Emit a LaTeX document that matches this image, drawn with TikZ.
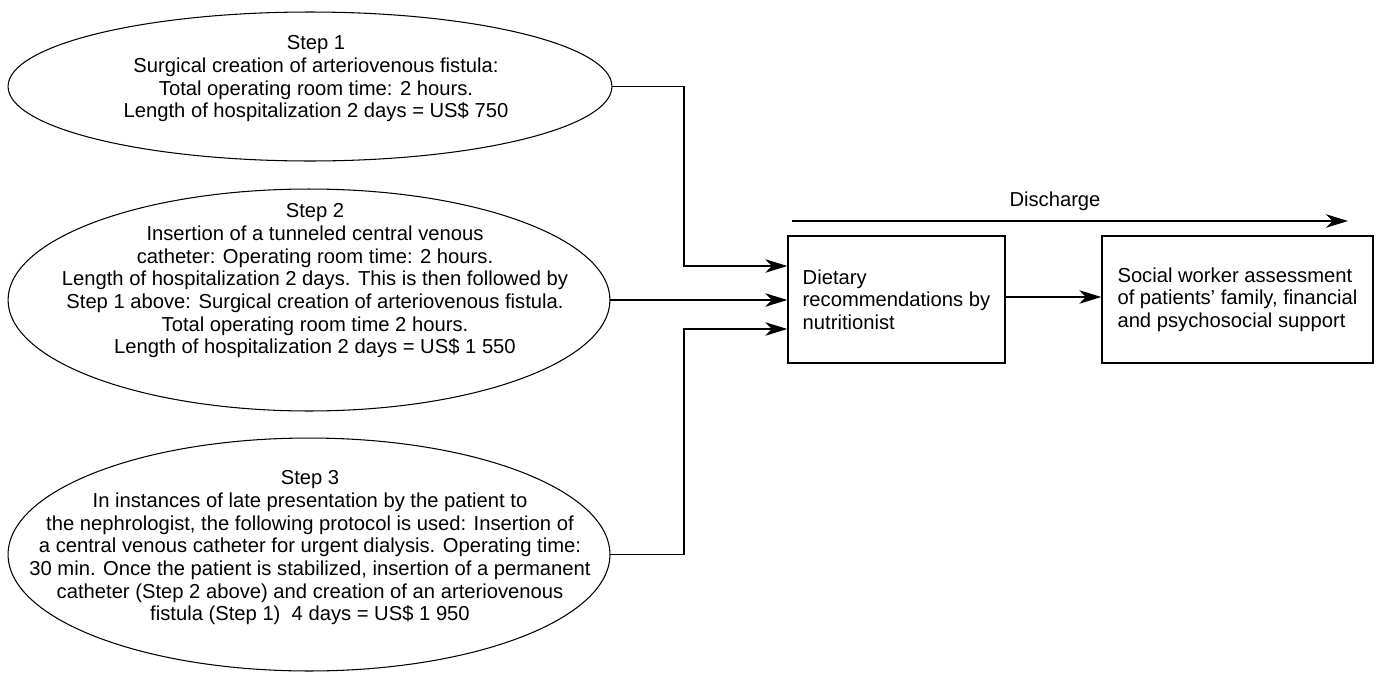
\documentclass[tikz,border=0pt]{standalone}
\usepackage{fontspec}
\setmainfont{Liberation Sans}
\usetikzlibrary{
    arrows.meta,
    shapes.geometric,
    positioning,
}

\begin{document}
\begin{tikzpicture}[x=0.02cm, y=-0.02cm,
        every node/.style={font=\fontsize{11.5}{12.9}\selectfont},
        stepshape/.style={draw, ellipse, line width=0.6pt, inner sep=0pt},
        steptext/.style={align=center, inner sep=0pt},
        boxnode/.style={draw, rectangle, line width=0.8pt, align=left, minimum height=2.54cm},
        arr/.style={line width=0.8pt, -{Stealth[length=4.4mm, width=2.7mm, inset=1.3mm]}}]

        \useasboundingbox (0,0) rectangle (1377,673);

        \node[stepshape, minimum width=12.08cm, minimum height=2.98cm] (S1) at (310,86.5) {};
        \node[steptext] (t1) at (316,79) {Step 1\\Surgical creation of arteriovenous fistula:\\Total operating room time: 2 hours.\\Length of hospitalization 2 days = US\$ 750};

        \node[stepshape, minimum width=12.04cm, minimum height=4.44cm] (S2) at (309,300) {};
        \node[steptext] (t2) at (315,281) {Step 2\\Insertion of a tunneled central venous\\catheter: Operating room time: 2 hours.\\Length of hospitalization 2 days. This is then followed by\\Step 1 above: Surgical creation of arteriovenous fistula.\\Total operating room time 2 hours.\\Length of hospitalization 2 days = US\$ 1 550};

        \node[stepshape, minimum width=12.04cm, minimum height=4.66cm] (S3) at (309,554.5) {};
        \node[steptext] (t3) at (310,548) {Step 3\\In instances of late presentation by the patient to\\the nephrologist, the following protocol is used: Insertion of\\a central venous catheter for urgent dialysis. Operating time:\\30 min. Once the patient is stabilized, insertion of a permanent\\catheter (Step 2 above) and creation of an arteriovenous\\fistula (Step 1)\ \ 4 days = US\$ 1 950};

        \node[boxnode, minimum width=4.34cm] (diet) at (896.5,299.5) {Dietary\\recommendations by\\nutritionist};
        \node[boxnode, minimum width=5.42cm] (social) at (1237.5,299.5) {Social worker assessment\\of patients’ family, financial\\and psychosocial support};

        \coordinate (dis1) at (792,221);
        \coordinate (dis2) at (1348,221);

        \draw[arr] (S1.east) -| (684,266) -- (diet.west |- 0,266);
        \draw[arr] (S2.east) -- (diet.west |- S2.east);
        \draw[arr] (S3.east) -| (684,329) -- (diet.west |- 0,329);
        \draw[arr] (diet.east |- 0,297) -- (social.west |- 0,297);
        \draw[arr] (dis1) -- node[pos=0.473, above=0.7mm] (distext) {Discharge} (dis2);
\end{tikzpicture}
\end{document}
